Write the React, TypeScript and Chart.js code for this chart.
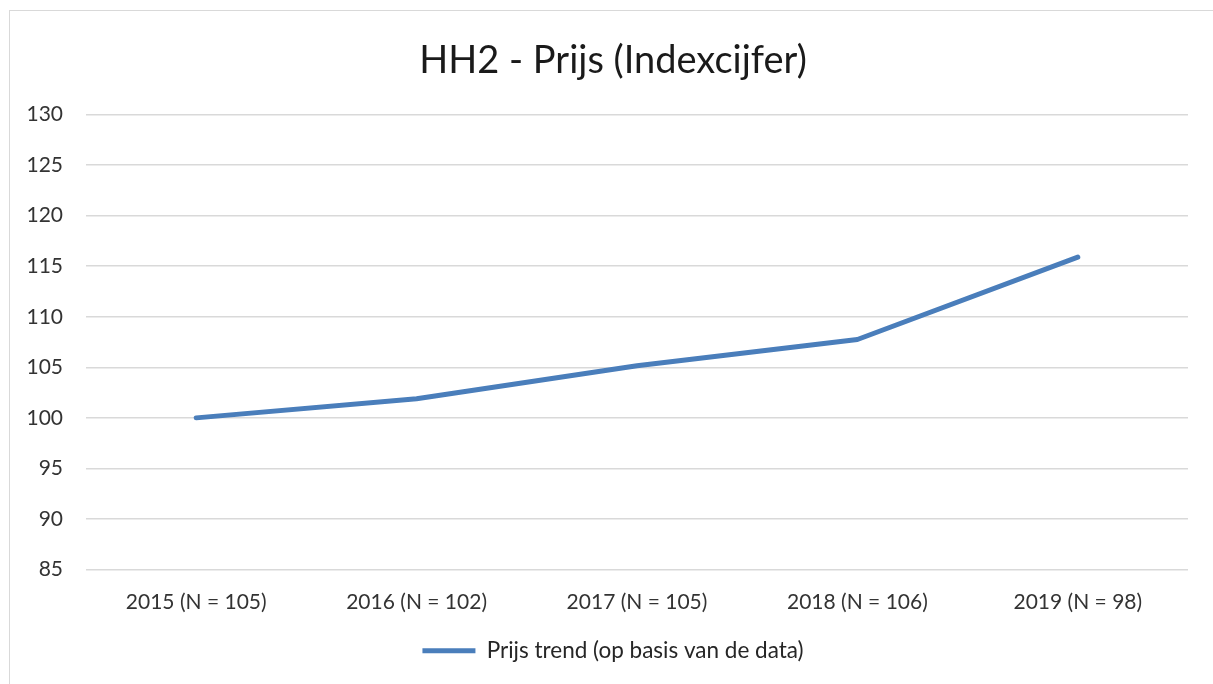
import React, { useEffect, useRef } from "react";
import { Chart, registerables } from "chart.js";

Chart.register(...registerables);

const title = "HH2 - Prijs (Indexcijfer)";
const categories = [
  "2015 (N = 105)",
  "2016 (N = 102)",
  "2017 (N = 105)",
  "2018 (N = 106)",
  "2019 (N = 98)",
];
const seriesLabel = "Prijs trend (op basis van de data)";
const prijsValues = [100, 101.9, 105.15, 107.75, 115.9];
const yMin = 85;
const yMax = 130;
const yStep = 5;

const FONT = "Lato, 'Noto Sans', sans-serif";
const TEXT = "#262626";
const TICK = "#333333";
const BLUE = "#4a7ebb";
const CANVAS_W = 1250;
const CANVAS_H = 684;

export default function App() {
  const ref = useRef<HTMLCanvasElement | null>(null);

  useEffect(() => {
    if (!ref.current) return;
    const chart = new Chart(ref.current, {
      type: "line",
      data: {
        labels: categories,
        datasets: [
          {
            label: seriesLabel,
            data: prijsValues,
            yAxisID: "y",
            borderColor: BLUE,
            backgroundColor: BLUE,
            borderWidth: 5,
            pointRadius: 0,
            tension: 0,
            borderCapStyle: "round",
            borderJoinStyle: "round",
          },
        ],
      },
      options: {
        responsive: false,
        animation: false,
        layout: { padding: { left: 0, right: 24, top: 20, bottom: 12 } },
        plugins: {
          title: {
            display: true,
            text: title,
            color: "#1a1a1a",
            font: { family: FONT, size: 38, weight: "normal" },
            padding: { top: 18, bottom: 31 },
          },
          legend: {
            display: true,
            position: "bottom",
            labels: {
              color: TEXT,
              font: { family: FONT, size: 22.5 },
              boxWidth: 53,
              boxHeight: 5,
              padding: 10,
              generateLabels: () => [
                {
                  text: seriesLabel,
                  fillStyle: BLUE,
                  strokeStyle: BLUE,
                  lineWidth: 0,
                  fontColor: TEXT,
                  datasetIndex: 0,
                  hidden: false,
                },
              ],
            },
          },
          tooltip: { enabled: false },
        },
        scales: {
          x: {
            offset: true,
            grid: { display: false, drawTicks: false },
            border: { display: false },
            ticks: {
              color: TICK,
              font: { family: FONT, size: 21 },
              padding: 20,
              maxRotation: 0,
            },
            afterFit: (s: any) => {
              s.height = 60;
            },
          },
          y: {
            min: yMin,
            max: yMax,
            grid: { color: "#d9d9d9", lineWidth: 1.5, drawTicks: false },
            border: { display: false },
            ticks: {
              stepSize: yStep,
              color: TICK,
              font: { family: FONT, size: 21 },
              padding: 23,
            },
            afterFit: (s: any) => {
              s.width = 86;
            },
          },
          spacer: {
            type: "linear",
            position: "right",
            min: yMin,
            max: yMax,
            grid: { display: false, drawTicks: false },
            border: { display: false },
            ticks: { display: false },
            afterFit: (s: any) => {
              s.width = 38;
            },
          },
        },
      } as any,
    });
    return () => chart.destroy();
  }, []);

  return (
    <div>
      <div
        style={{
          position: "fixed",
          left: 9,
          top: 10,
          width: 1400,
          height: 900,
          border: "1px solid #d9d9d9",
          background: "#fff",
        }}
      />
      <canvas
        ref={ref}
        width={CANVAS_W}
        height={CANVAS_H}
        style={{ position: "fixed", left: 0, top: 0, width: CANVAS_W, height: CANVAS_H }}
      />
    </div>
  );
}
